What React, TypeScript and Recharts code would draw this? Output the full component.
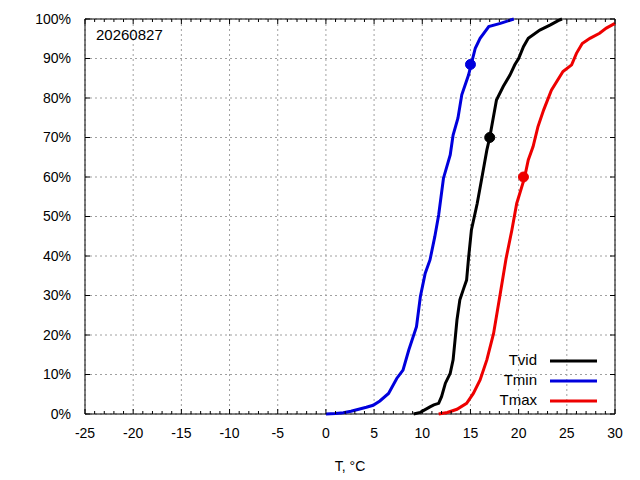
import React from "react";
import {
  LineChart,
  Line,
  XAxis,
  YAxis,
  CartesianGrid,
  ReferenceArea,
  ReferenceDot,
} from "recharts";

const tvidT = [9.1, 9.8, 10.8, 11.2, 11.7, 12.0, 12.4, 12.9, 13.2, 13.4, 13.6, 13.9, 14.3, 14.6, 14.8, 15.1, 15.7, 16.2, 16.7, 17.0, 17.2, 17.7, 18.4, 19.1, 19.6, 20.0, 20.5, 21.0, 22.2, 23.3, 24.1, 24.5];
const tvidP = [0, 0.4, 1.8, 2.3, 2.7, 4.4, 7.8, 10.3, 13.7, 18.7, 23.8, 28.9, 31.8, 33.9, 39.4, 46.6, 53.3, 60.0, 66.8, 70.0, 72.7, 79.5, 82.9, 85.8, 88.4, 90.0, 93.0, 95.1, 97.2, 98.5, 99.6, 100];

const tminT = [0, 1, 1.8, 2.6, 3.4, 4.2, 4.9, 5.6, 6.5, 7.35, 8.0, 8.6, 9.4, 9.8, 10.3, 10.8, 11.3, 11.7, 12.2, 12.9, 13.2, 13.7, 14.1, 14.8, 15.5, 16.0, 16.9, 18.1, 19.5];
const tminP = [0, 0.1, 0.3, 0.7, 1.2, 1.7, 2.2, 3.3, 5.2, 9.0, 11.1, 16.2, 22.1, 29.7, 35.6, 39.0, 44.9, 50.4, 59.7, 65.6, 70.6, 74.9, 80.8, 85.8, 92.6, 95.1, 98.1, 98.9, 100];

const tmaxT = [11.7, 12.6, 13.6, 14.6, 15.3, 16.0, 16.7, 17.4, 18.1, 18.7, 19.3, 19.8, 20.6, 21.0, 21.5, 22.0, 22.6, 23.4, 24.6, 25.5, 26.0, 26.6, 27.4, 28.4, 29.1, 30.0];
const tmaxP = [0, 0.4, 1.2, 2.7, 5.2, 8.6, 13.7, 20.4, 30.6, 39.4, 46.6, 53.3, 59.7, 64.3, 67.7, 72.7, 77.0, 82.0, 86.7, 88.4, 91.3, 93.8, 95.1, 96.4, 97.7, 98.9];

// highlighted points (T, %)
const tvidMark = [17.0, 70.0];
const tminMark = [15.0, 88.5];
const tmaxMark = [20.5, 60.0];

const seriesNames = ["Tvid", "Tmin", "Tmax"];
const seriesColors = ["#000000", "#0000dd", "#ee0000"];

const xMajor = [-25, -20, -15, -10, -5, 0, 5, 10, 15, 20, 25, 30];
const xMinor = Array.from({ length: 56 }, (_, i) => i - 25);
const yTicks = [0, 10, 20, 30, 40, 50, 60, 70, 80, 90, 100];
const dateLabel = "20260827";

const zip = (t: number[], p: number[]) => t.map((v, i) => ({ t: v, p: p[i] }));

const W = 640;
const H = 480;
const LEFT = 85;
const RIGHT = 615;
const TOP = 19;
const BOTTOM = 414;
const FONT = "'Liberation Sans', Arial, sans-serif";

function XTick(props: any) {
  const { x, y, payload } = props;
  const v = payload.value;
  const major = v % 5 === 0;
  const len = major ? 5 : 3;
  return (
    <g>
      <line x1={x} x2={x} y1={BOTTOM} y2={BOTTOM - len} stroke="#000" />
      <line x1={x} x2={x} y1={TOP} y2={TOP + len} stroke="#000" />
      {major && (
        <text x={x} y={y} dy="0.71em" textAnchor="middle" fontSize={14} fontFamily={FONT} fill="#000">
          {v}
        </text>
      )}
    </g>
  );
}

function YTick(props: any) {
  const { x, y, payload } = props;
  return (
    <g>
      <line x1={LEFT} x2={LEFT + 5} y1={y} y2={y} stroke="#000" />
      <line x1={RIGHT} x2={RIGHT - 5} y1={y} y2={y} stroke="#000" />
      <text x={x} y={y} dy="0.355em" textAnchor="end" fontSize={14} fontFamily={FONT} fill="#000">
        {payload.value}%
      </text>
    </g>
  );
}

export default function App() {
  const series = [zip(tvidT, tvidP), zip(tminT, tminP), zip(tmaxT, tmaxP)];
  const marks = [tvidMark, tminMark, tmaxMark];
  return (
    <div style={{ position: "absolute", left: 0, top: 0, width: W, height: H, background: "#fff" }}>
      <LineChart width={W} height={H} margin={{ top: TOP, right: W - RIGHT, bottom: 0, left: 0 }}>
        <CartesianGrid
          stroke="#a0a0a0"
          strokeDasharray="2 3"
          verticalValues={xMajor}
        />
        <XAxis
          type="number"
          dataKey="t"
          domain={[-25, 30]}
          ticks={xMinor}
          interval={0}
          height={H - BOTTOM}
          tickSize={0}
          tickMargin={14}
          tickLine={false}
          axisLine={false}
          tick={<XTick />}
          label={{ value: "T, °C", position: "insideBottom", offset: 9, fontSize: 14, fontFamily: FONT, fill: "#000" }}
        />
        <YAxis
          type="number"
          domain={[0, 100]}
          ticks={yTicks}
          interval={0}
          width={LEFT}
          tickSize={0}
          tickMargin={14}
          tickLine={false}
          axisLine={false}
          tick={<YTick />}
        />
        <ReferenceArea x1={-25} x2={30} y1={0} y2={100} fill="none" stroke="#000" strokeWidth={1} />
        {series.map((d, i) => (
          <Line
            key={seriesNames[i]}
            data={d}
            dataKey="p"
            type="linear"
            stroke={seriesColors[i]}
            strokeWidth={3}
            dot={false}
            isAnimationActive={false}
          />
        ))}
        {marks.map((m, i) => (
          <ReferenceDot
            key={"m" + i}
            x={m[0]}
            y={m[1]}
            r={5}
            fill={seriesColors[i]}
            stroke={seriesColors[i]}
          />
        ))}
        <text x={96} y={40} fontSize={15} fontFamily={FONT} fill="#000">
          {dateLabel}
        </text>
        <g>
          {seriesNames.map((name, i) => (
            <g key={name}>
              <text x={537} y={365 + i * 20} textAnchor="end" fontSize={15} fontFamily={FONT} fill="#000">
                {name}
              </text>
              <line x1={550} x2={597} y1={361 + i * 20} y2={361 + i * 20} stroke={seriesColors[i]} strokeWidth={3} />
            </g>
          ))}
        </g>
      </LineChart>
    </div>
  );
}
